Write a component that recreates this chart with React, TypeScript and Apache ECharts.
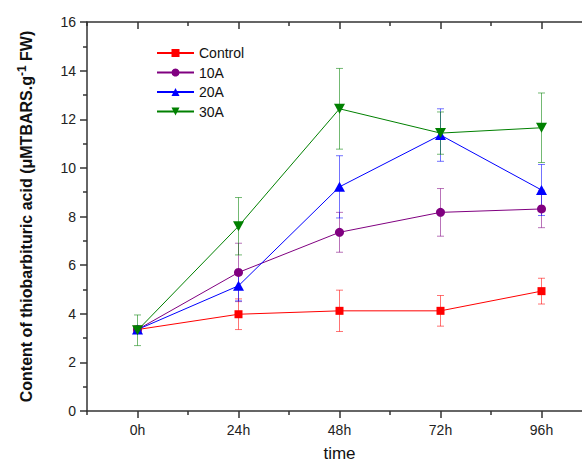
import React, { useEffect, useRef } from "react";
import * as echarts from "echarts";

const categories = ["0h", "24h", "48h", "72h", "96h"];
const seriesNames = ["Control", "10A", "20A", "30A"];
const controlMean = [3.35, 3.98, 4.12, 4.12, 4.93];
const controlErr = [0.1, 0.63, 0.85, 0.63, 0.53];
const a10Mean = [3.35, 5.7, 7.35, 8.17, 8.31];
const a10Err = [0.1, 1.2, 0.82, 0.98, 0.77];
const a20Mean = [3.35, 5.15, 9.22, 11.35, 9.09];
const a20Err = [0.12, 0.62, 1.28, 1.08, 1.05];
const a30Mean = [3.32, 7.6, 12.43, 11.43, 11.65];
const a30Err = [0.63, 1.18, 1.66, 0.87, 1.43];
const minorTickPositions = [-12, 108];

const FONT = "Arial, 'Liberation Sans', sans-serif";

export default function App() {
  const ref = useRef<HTMLDivElement>(null);
  useEffect(() => {
    if (!ref.current) return;
    const chart = echarts.init(ref.current, null, { renderer: "svg" });
    const means = [controlMean, a10Mean, a20Mean, a30Mean];
    const errs = [controlErr, a10Err, a20Err, a30Err];
    const colors = ["#ff0000", "#800080", "#0000ff", "#008000"];
    const errColors = ["rgba(255,0,0,0.55)", "rgba(128,0,128,0.55)", "rgba(0,0,255,0.55)", "rgba(0,128,0,0.55)"];
    const symbols = ["rect", "circle", "triangle", "path://M0,0 L10,0 L5,9 Z"];
    const symbolSizes: any[] = [8, 9, [11, 10], [11, 10]];

    const lineSeries = means.map((m, i) => ({
      name: seriesNames[i],
      type: "line",
      xAxisIndex: 0,
      yAxisIndex: 0,
      data: m,
      symbol: symbols[i],
      symbolSize: symbolSizes[i],
      lineStyle: { color: colors[i], width: 1 },
      itemStyle: { color: colors[i] },
      z: 5,
    }));

    const errSeries = means.map((m, i) => ({
      name: seriesNames[i] + " err",
      type: "custom",
      xAxisIndex: 0,
      yAxisIndex: 0,
      z: 3,
      silent: true,
      encode: { x: 0, y: [1, 2] },
      data: m.map((v, j) => [j, v - errs[i][j], v + errs[i][j]]),
      renderItem: (params: any, api: any) => {
        const x = api.value(0);
        const lo = api.coord([x, api.value(1)]);
        const hi = api.coord([x, api.value(2)]);
        const hw = 3.5;
        const st = { stroke: errColors[i], lineWidth: 1 };
        return {
          type: "group",
          children: [
            { type: "line", shape: { x1: lo[0], y1: lo[1], x2: hi[0], y2: hi[1] }, style: st },
            { type: "line", shape: { x1: lo[0] - hw, y1: lo[1], x2: lo[0] + hw, y2: lo[1] }, style: st },
            { type: "line", shape: { x1: hi[0] - hw, y1: hi[1], x2: hi[0] + hw, y2: hi[1] }, style: st },
          ],
        };
      },
    }));

    const axisLine = { show: true, onZero: false, lineStyle: { color: "#333", width: 1.5 } };

    chart.setOption({
      animation: false,
      backgroundColor: "#ffffff",
      textStyle: { fontFamily: FONT },
      grid: { left: 87, top: 22, width: 505, height: 389, containLabel: false, outerBoundsMode: "none" },
      legend: {
        data: seriesNames,
        orient: "vertical",
        left: 151,
        top: 41,
        itemWidth: 37,
        itemHeight: 10,
        itemGap: 5.5,
        textStyle: { fontSize: 14, color: "#111", fontFamily: FONT },
      },
      xAxis: [
        {
          type: "category",
          data: categories,
          position: "bottom",
          boundaryGap: true,
          axisLine,
          axisTick: { show: true, alignWithLabel: true, inside: false, length: 7, lineStyle: { color: "#333", width: 1.5 } },
          axisLabel: { fontSize: 14, color: "#222", margin: 12, fontFamily: FONT },
          splitLine: { show: false },
          name: "time",
          nameLocation: "middle",
          nameGap: 34,
          nameTextStyle: { fontSize: 17, color: "#111", fontFamily: FONT },
        },
        {
          type: "value",
          position: "bottom",
          min: minorTickPositions[0],
          max: minorTickPositions[1],
          interval: 24,
          axisLine: { show: false, onZero: false },
          axisTick: { show: true, inside: false, length: 4, lineStyle: { color: "#333", width: 1.5 } },
          axisLabel: { show: false },
          splitLine: { show: false },
        },
        {
          type: "category",
          data: categories,
          position: "top",
          boundaryGap: true,
          axisLine,
          axisTick: { show: true, alignWithLabel: true, inside: true, length: 7, lineStyle: { color: "#333", width: 1.5 } },
          axisLabel: { show: false },
          splitLine: { show: false },
        },
        {
          type: "value",
          position: "top",
          min: minorTickPositions[0],
          max: minorTickPositions[1],
          interval: 24,
          axisLine: { show: false, onZero: false },
          axisTick: { show: true, inside: true, length: 4, lineStyle: { color: "#333", width: 1.5 } },
          axisLabel: { show: false },
          splitLine: { show: false },
        },
      ],
      yAxis: [
        {
          type: "value",
          position: "left",
          min: 0,
          max: 16,
          interval: 2,
          axisLine,
          axisTick: { show: true, inside: false, length: 7, lineStyle: { color: "#333", width: 1.5 } },
          minorTick: { show: true, splitNumber: 2, length: 4, lineStyle: { color: "#333", width: 1.5 } },
          axisLabel: { fontSize: 14, color: "#222", margin: 11, fontFamily: FONT },
          splitLine: { show: false },
          name: "Content of thiobarbituric acid (μMTBARS.g{sup|-1} FW)",
          nameLocation: "middle",
          nameGap: 50,
          nameRotate: 90,
          nameTextStyle: {
            fontSize: 16,
            fontWeight: "bold",
            color: "#111",
            fontFamily: FONT,
            rich: {
              sup: { fontSize: 12, fontWeight: "bold", verticalAlign: "top", padding: [0, 0, 9, 0], color: "#111", fontFamily: FONT },
            },
          },
        },
        {
          type: "value",
          position: "right",
          min: 0,
          max: 16,
          interval: 2,
          axisLine,
          axisTick: { show: true, inside: true, length: 7 },
          axisLabel: { show: false },
          splitLine: { show: false },
        },
      ],
      series: [...errSeries, ...lineSeries],
    });
    return () => chart.dispose();
  }, []);
  return (
    <div style={{ position: "absolute", left: 0, top: 0, width: 582, height: 463, overflow: "hidden", background: "#fff" }}>
      <div ref={ref} style={{ width: 610, height: 463 }} />
    </div>
  );
}
